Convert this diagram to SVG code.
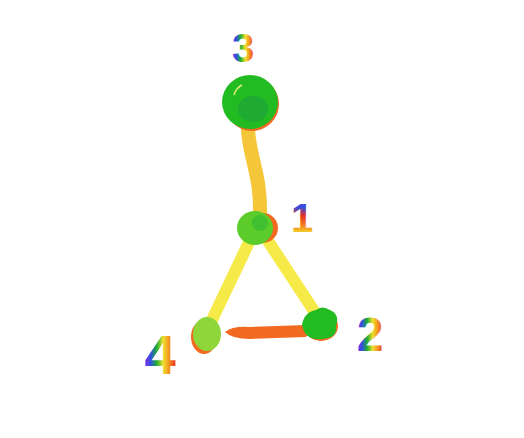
<svg xmlns="http://www.w3.org/2000/svg" width="524" height="438" viewBox="0 0 524 438">
<defs>
<linearGradient id="rb" x1="0" y1="0" x2="1" y2="0">
<stop offset="0" stop-color="#8a2be2"/>
<stop offset="0.2" stop-color="#3050e0"/>
<stop offset="0.4" stop-color="#20b030"/>
<stop offset="0.6" stop-color="#f0e030"/>
<stop offset="0.8" stop-color="#f59020"/>
<stop offset="1" stop-color="#e83020"/>
</linearGradient>
<linearGradient id="rbv" x1="0" y1="0" x2="0" y2="1">
<stop offset="0" stop-color="#8a2be2"/>
<stop offset="0.25" stop-color="#3050e0"/>
<stop offset="0.45" stop-color="#e83020"/>
<stop offset="0.7" stop-color="#f59020"/>
<stop offset="0.85" stop-color="#f0e030"/>
<stop offset="1" stop-color="#20b030"/>
</linearGradient>
<style>
.lbl{font-family:"Liberation Sans",Arial,sans-serif;font-weight:bold;fill:url(#rb);text-anchor:middle}
.edge{fill:none;stroke-linecap:round}
</style>
</defs>
<rect width="524" height="438" fill="#ffffff"/>
<g id="connectors">
<path class="edge" d="M248,130 C250,160 261,175 260,215" stroke="#f5c63a" stroke-width="14"/>
<path class="edge" d="M251,238 L212,320" stroke="#f5ea48" stroke-width="12"/>
<path class="edge" d="M266,238 L316,314" stroke="#f5ea48" stroke-width="12"/>
<path d="M225,332 Q232,326 250,327 L306,325 Q312,331 306,337 L250,339 Q232,339 225,332 Z" fill="#f26a21"/>
</g>
<g id="node3">
<circle cx="252" cy="104" r="27" fill="#f26a21"/>
<ellipse cx="250" cy="102" rx="28" ry="27" fill="#22bb22"/>
<ellipse cx="253" cy="109" rx="15" ry="13" fill="#1eaa33"/>
<path d="M234,95 Q236,88 242,85" stroke="#d8f070" stroke-width="1.5" fill="none"/>
</g>
<g id="node1">
<circle cx="263" cy="228" r="15" fill="#f26a21"/>
<ellipse cx="255" cy="228" rx="18" ry="17" fill="#5ccc2a"/>
<circle cx="260" cy="223" r="8" fill="#40c030"/>
</g>
<g id="node4">
<ellipse cx="204" cy="337" rx="13" ry="17" fill="#f26a21"/>
<ellipse cx="207" cy="334" rx="14" ry="17" fill="#8ed63a"/>
</g>
<g id="node2">
<ellipse cx="321" cy="326" rx="17" ry="15" fill="#f26a21"/>
<path d="M302,325 Q304,312 316,310 Q322,305 330,310 Q340,314 336,326 Q338,338 322,339 Q305,341 302,325 Z" fill="#22bb22"/>
</g>
<g id="labels">
<text class="lbl" x="243" y="62" font-size="40">3</text>
<text class="lbl" x="302" y="232" font-size="40" style="fill:url(#rbv)">1</text>
<text class="lbl" x="160" y="374" font-size="56">4</text>
<text class="lbl" x="370" y="351" font-size="48">2</text>
</g>
</svg>
